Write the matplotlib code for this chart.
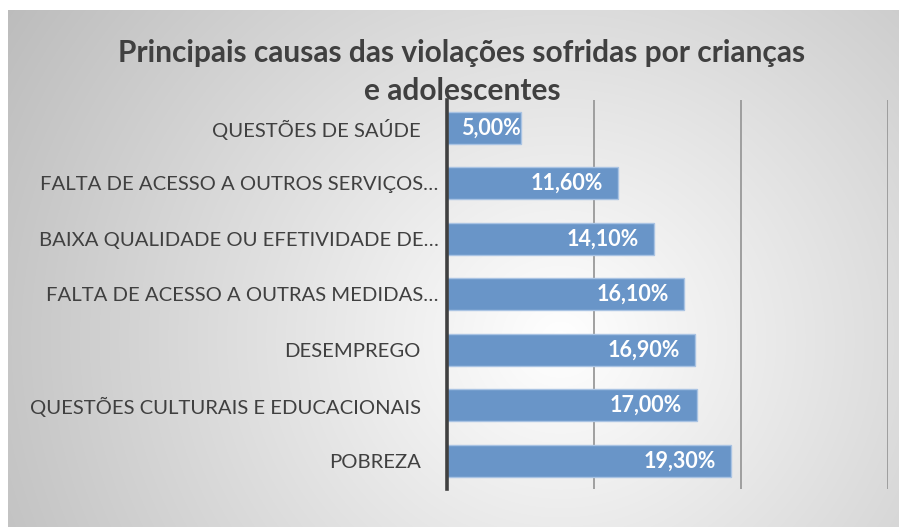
import matplotlib
matplotlib.use("Agg")
import matplotlib.pyplot as plt
import matplotlib.transforms as mtransforms
import numpy as np

categories = ["QUESTÕES DE SAÚDE", "FALTA DE ACESSO A OUTROS SERVIÇOS…",
              "BAIXA QUALIDADE OU EFETIVIDADE DE…", "FALTA DE ACESSO A OUTRAS MEDIDAS…",
              "DESEMPREGO", "QUESTÕES CULTURAIS E EDUCACIONAIS", "POBREZA"]
values = [5.00, 11.60, 14.10, 16.10, 16.90, 17.00, 19.30]
value_labels = ["5,00%", "11,60%", "14,10%", "16,10%", "16,90%", "17,00%", "19,30%"]
title = "Principais causas das violações sofridas por crianças\ne adolescentes"

W, H = 899, 527
fig = plt.figure(figsize=(W / 100, H / 100), dpi=100)
fig.patch.set_facecolor("white")

# background gradient panel
bx0, by0 = 8, 10
bg = fig.add_axes([bx0 / W, 0, 1 - bx0 / W, 1 - by0 / H])
bg.set_axis_off()
yy, xx = np.mgrid[by0:H, bx0:W]
cx, cy = 560, 340
d = np.sqrt(((xx - cx) / 1.0) ** 2 + ((yy - cy) / 0.95) ** 2)
g = np.clip(1 - d / 650 * 0.26, 0.72, 1.0)
img = np.dstack([g, g, g])
bg.imshow(img, aspect="auto", interpolation="bilinear", extent=[0, 1, 0, 1])
bg.set_xlim(0, 1)
bg.set_ylim(0, 1)

# main axes
x0, x1 = 447, 888
ytop, ybot = 100, 488.5
ax = fig.add_axes([x0 / W, 1 - ybot / H, (x1 - x0) / W, (ybot - ytop) / H])
ax.patch.set_alpha(0)
ypos = np.arange(len(categories))
bars = ax.barh(ypos, values, height=0.58, color="#6995c8", edgecolor="#a9c3e3", linewidth=1.0, zorder=3)
ax.set_xlim(0, 30)
ax.set_ylim(len(categories) - 0.5, -0.5)
ax.set_xticks([10, 20, 30])
ax.xaxis.grid(True, color="#999999", linewidth=1.3, zorder=0)
ax.tick_params(axis="x", length=0, labelbottom=False)
ax.tick_params(axis="y", length=0, pad=6)
ax.set_yticks(ypos)
ax.set_yticklabels(categories, fontsize=14.6, color="#404040", family="Lato")
for lbl in ax.get_yticklabels():
    if not lbl.get_text().endswith("…"):
        lbl.set_transform(lbl.get_transform() +
                          mtransforms.ScaledTranslation(-18 / 100, 0, fig.dpi_scale_trans))
for s in ["top", "right", "bottom"]:
    ax.spines[s].set_visible(False)
ax.spines["left"].set_color("#404040")
ax.spines["left"].set_linewidth(2.6)
ax.spines["left"].set_zorder(5)

fig.canvas.draw()
renderer = fig.canvas.get_renderer()
scale = (x1 - x0) / 30.0
for yv, v, lab in zip(ypos, values, value_labels):
    t = ax.text(v, yv, lab, ha="right", va="center", color="white", fontsize=15.5,
                fontweight="bold", family="Lato", zorder=6)
    tw = t.get_window_extent(renderer).width
    bw = v * scale
    off = min(15, bw - tw - 15)
    off = max(off, 0)
    t.set_x(v - off / scale)

fig.text(462 / W, 1 - 72 / H, title, ha="center", va="center", fontsize=21.5,
         fontweight="bold", color="#404040", family="Lato", linespacing=1.42)

fig.savefig("out.png", dpi=100)
